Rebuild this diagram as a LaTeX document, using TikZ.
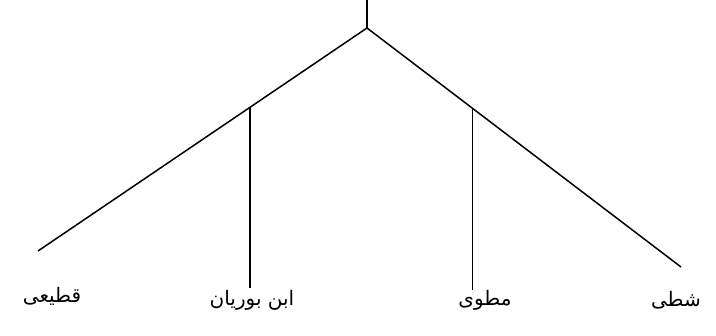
\documentclass[tikz,border=0pt]{standalone}
\usepackage{fontspec}
\usetikzlibrary{calc}
\TeXXeTstate=1
\newfontfamily\arabicfont[Script=Arabic]{DejaVu Sans}
\begin{document}
\begin{tikzpicture}[x=1pt,y=-1pt,
  branch/.style={line width=1.5pt,black},
  lbl/.style={font=\arabicfont\fontsize{20}{24}\selectfont,inner sep=0pt}]
\useasboundingbox (0,0) rectangle (716,336);
\coordinate (top) at (367,0);
\coordinate (root) at (367,28);
\coordinate (lend) at (38,251);
\coordinate (rend) at (681,267);
\coordinate (j1) at ($(root)!0.356!(lend)$);
\coordinate (j2) at ($(root)!0.336!(rend)$);
\coordinate (v1) at (249,288);
\coordinate (v2) at (473,290);
\draw[branch] (top) -- (root);
\draw[branch] (root) -- (lend);
\draw[branch] (root) -- (rend);
\draw[branch] (j1) -- (j1 |- v1);
\draw[branch] (j2) -- (j2 |- v2);
\node[lbl] (a) at (52,296) {\beginR قطیعی\endR};
\node[lbl] (b) at (252,300) {\beginR ابن بوریان\endR};
\node[lbl] (c) at (485,300) {\beginR مطوی\endR};
\node[lbl] (d) at (676,300) {\beginR شطی\endR};
\end{tikzpicture}
\end{document}
